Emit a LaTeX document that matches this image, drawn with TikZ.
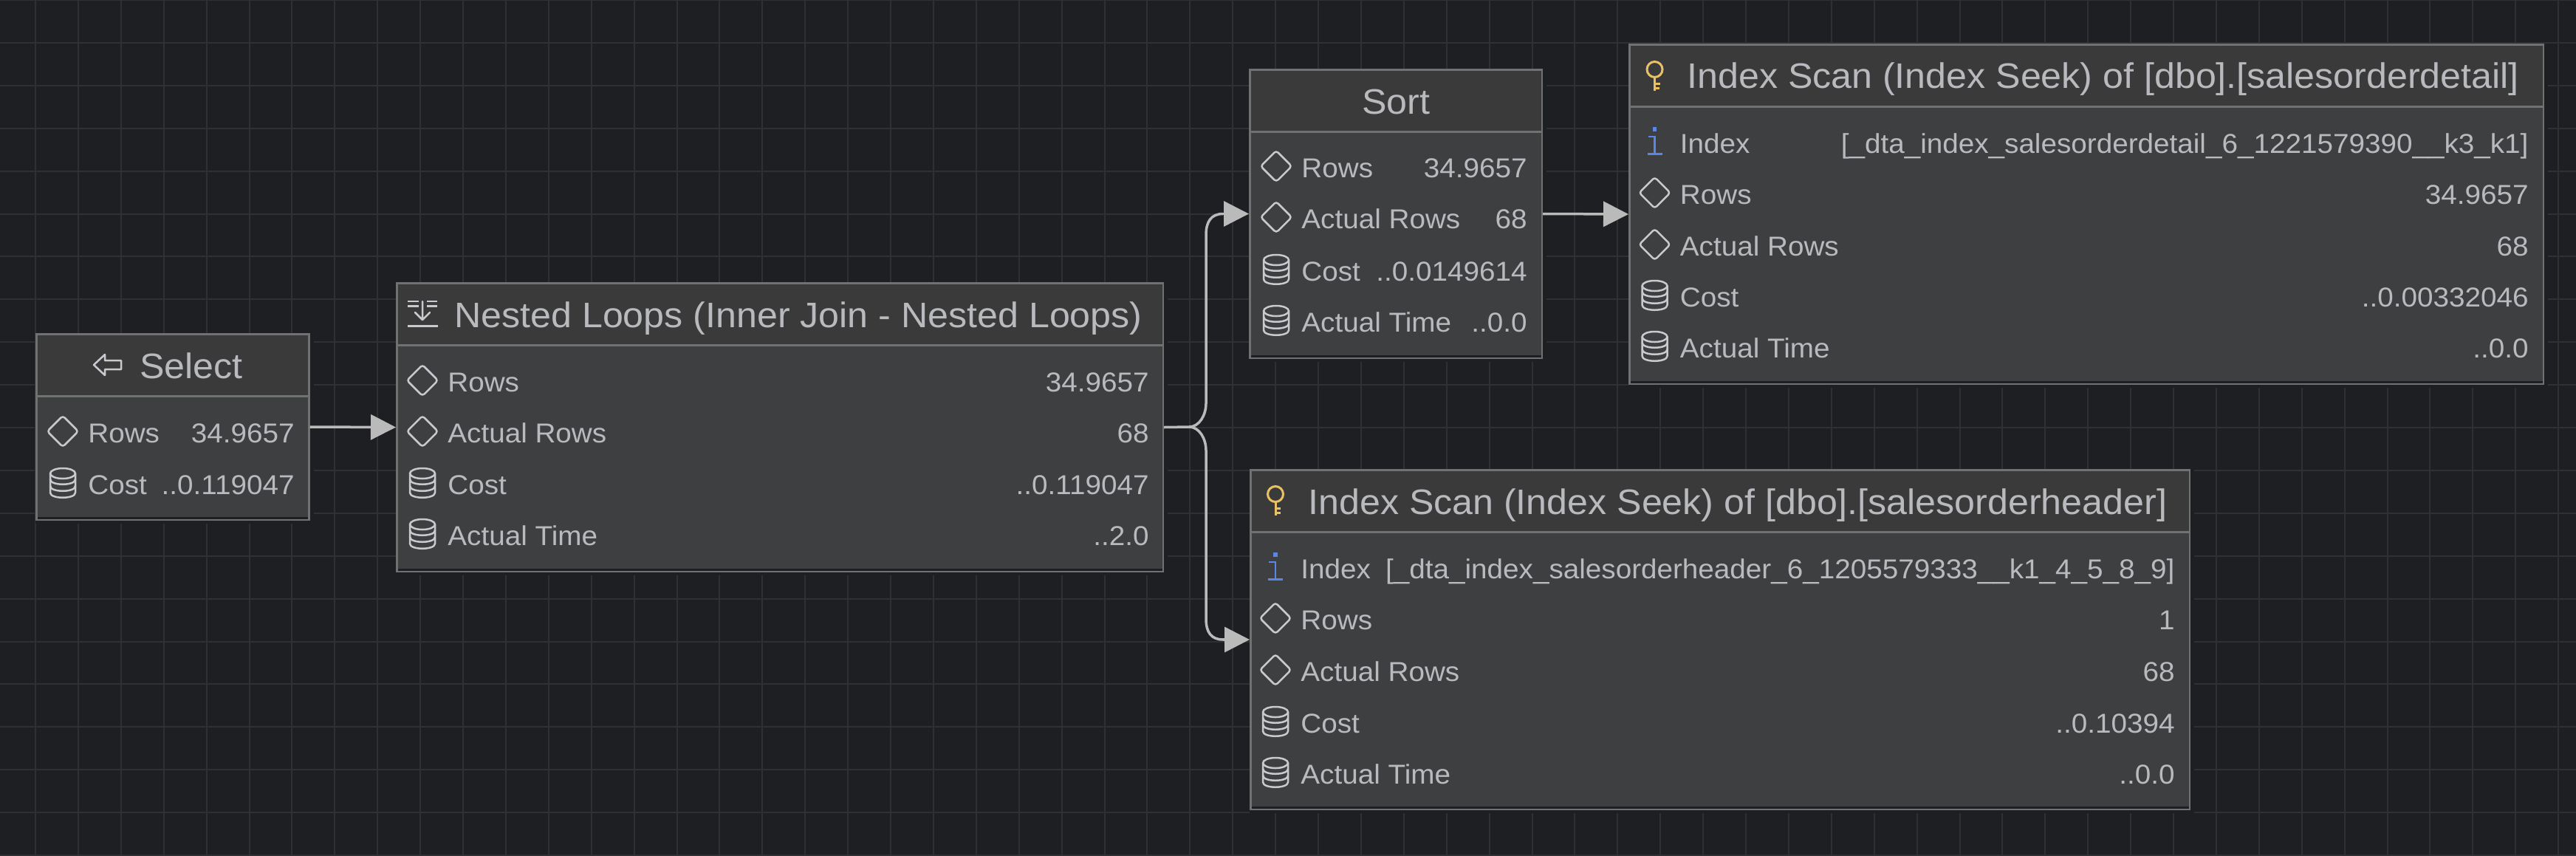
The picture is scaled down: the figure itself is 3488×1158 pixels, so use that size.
\documentclass[tikz,border=0pt]{standalone}
\usepackage{fontspec}
\setmainfont[FakeStretch=1.045]{Liberation Sans}
\usetikzlibrary{arrows.meta}
\definecolor{canvas}{HTML}{1E1F22}
\definecolor{gridc}{HTML}{2F3033}
\definecolor{bodyc}{HTML}{3E3F41}
\definecolor{headc}{HTML}{3A3A3B}
\definecolor{edgec}{HTML}{707171}
\definecolor{textc}{HTML}{B9BABE}
\definecolor{iconc}{HTML}{C9CACD}
\definecolor{linkc}{HTML}{BABABA}
\definecolor{keyc}{HTML}{E9C164}
\definecolor{infoc}{HTML}{5B86E8}
\tikzset{
  opbox/.style={draw=edgec,line width=1.25pt,fill=bodyc,inner sep=0pt,anchor=center,rectangle},
  divider/.style={edgec,line width=1.5pt},
  gridline/.style={gridc,line width=1pt},
  lab/.style={text=textc,inner sep=0pt,anchor=base west,font=\fontsize{18.5pt}{22pt}\selectfont},
  val/.style={text=textc,inner sep=0pt,anchor=base east,font=\fontsize{18.5pt}{22pt}\selectfont},
  ttl/.style={text=textc,inner sep=0pt,anchor=base west,font=\fontsize{24pt}{28pt}\selectfont},
  icon/.style={draw=iconc,line width=1.25pt,line join=round,line cap=round},
  link/.style={draw=linkc,line width=1.75pt,-{Triangle[length=17pt,width=17pt]}},
  linkplain/.style={draw=linkc,line width=1.75pt},
  pics/rowdiamond/.style={code={\draw[icon,rounded corners=1.8pt] (-21,0)--(0,-21)--(21,0)--(0,21)--cycle;}},
  pics/rowdb/.style={code={
    \draw[icon] (0,-13) ellipse [x radius=17,y radius=7];
    \draw[icon] (-17,-13) -- (-17,13) .. controls (-17,22) and (17,22) .. (17,13) -- (17,-13);
    \draw[icon] (-17,-5) .. controls (-17,4) and (17,4) .. (17,-5);
    \draw[icon] (-17,4) .. controls (-17,13) and (17,13) .. (17,4);}},
  pics/rowinfo/.style={code={
    \fill[infoc] (-2.8,-20) rectangle (2.8,-14.5);
    \draw[infoc,line width=1.25pt] (-9,-7) -- (0,-7) -- (0,16);
    \draw[infoc,line width=1.5pt] (-10,16) -- (10,16);}},
  pics/keyicon/.style={code={
    \draw[keyc,line width=1.5pt] (0,-14) circle [radius=10.5];
    \draw[keyc,line width=1.5pt] (0,-3.5) -- (0,15);
    \draw[keyc,line width=1.5pt] (0,5) -- (7,5);
    \draw[keyc,line width=1.5pt] (0,11.5) -- (6.5,11.5);}},
  pics/loopicon/.style={code={
    \draw[icon,line cap=butt,line width=1.5pt] (-20,33) -- (21,33);
    \draw[icon,line cap=butt] (-20,0) -- (-5,0) (-20,6.5) -- (-5,6.5) (6,0) -- (20,0) (6,6.5) -- (20,6.5);
    \draw[icon] (0,0) -- (0,25) (-10,15) -- (0,25) -- (10,15);}},
  pics/backicon/.style={code={
    \draw[icon] (0,0) -- (15,-14) -- (15,-6) -- (37,-6) -- (37,6) -- (15,6) -- (15,14) -- cycle;}},
}
\newcommand\opnode[6]{%
  \fill[canvas] (#2,#3) rectangle ({#4+5},{#5+4});
  \node[opbox,minimum width={(#4-#2-2.5)*0.5pt},minimum height={(#5-#3-2.5)*0.5pt}] (#1) at ({(#2+#4)/2},{(#3+#5)/2}) {};
  \fill[headc] ({#2+2.5},{#3+2.5}) rectangle ({#4-2.5},#6);
  \fill[canvas] ({#2+2.5},{#5-5.5}) rectangle ({#4-2.5},{#5-2.5});
  \draw[divider] ({#2+2.5},#6) -- ({#4-2.5},#6);
}
\newcommand\statrow[8]{%
  \pic at (#3,{#6-15}) {#2};
  \node[lab] (#1l) at (#4,#6) {#7};
  \node[val] (#1v) at (#5,#6) {#8};
}
\begin{document}
\begin{tikzpicture}[x=0.5pt,y=-0.5pt]
\useasboundingbox (0,0) rectangle (3488,1158);
\fill[canvas] (0,0) rectangle (3488,1158);
\foreach \k in {0,...,59} {\draw[gridline] ({48+57.9*\k},0) -- ({48+57.9*\k},1158);}
\foreach \k in {0,...,20} {\draw[gridline] (0,{57.9*\k}) -- (3488,{57.9*\k});}

% Select
\opnode{sel}{48}{451}{419.5}{705}{536}
\pic at (127,494) {backicon};
\node[ttl] (selt) at (189,512) {Select};
\statrow{selr}{rowdiamond}{85}{119}{399}{599}{Rows}{34.9657}
\statrow{selc}{rowdb}{85}{119}{399}{669}{Cost}{..0.119047}

% Nested Loops
\opnode{nl}{536}{382}{1576}{775}{467}
\pic at (572,408) {loopicon};
\node[ttl] (nlt) at (615,443) {Nested Loops (Inner Join - Nested Loops)};
\statrow{nlr}{rowdiamond}{572}{606}{1556}{530}{Rows}{34.9657}
\statrow{nla}{rowdiamond}{572}{606}{1556}{599}{Actual Rows}{68}
\statrow{nlc}{rowdb}{572}{606}{1556}{669}{Cost}{..0.119047}
\statrow{nlt}{rowdb}{572}{606}{1556}{738}{Actual Time}{..2.0}

% Sort
\opnode{sort}{1691}{93}{2089}{486}{178}
\node[ttl] (sortt) at (1844,154) {Sort};
\statrow{sortr}{rowdiamond}{1728}{1762}{2068}{240}{Rows}{34.9657}
\statrow{sorta}{rowdiamond}{1728}{1762}{2068}{309}{Actual Rows}{68}
\statrow{sortc}{rowdb}{1728}{1762}{2068}{380}{Cost}{..0.0149614}
\statrow{sorti}{rowdb}{1728}{1762}{2068}{449}{Actual Time}{..0.0}

% Index Scan salesorderdetail
\opnode{det}{2205}{59}{3445}{521}{144}
\pic at (2240.5,108) {keyicon};
\node[ttl] (dett) at (2284,119) {Index Scan (Index Seek) of [dbo].[salesorderdetail]};
\pic at (2240.5,192) {rowinfo};
\node[lab] (deti) at (2274.5,207) {Index};
\node[val] (detiv) at (3424,207) {[\_dta\_index\_salesorderdetail\_6\_1221579390\_\_k3\_k1]};
\statrow{detr}{rowdiamond}{2240.5}{2274.5}{3424}{276}{Rows}{34.9657}
\statrow{deta}{rowdiamond}{2240.5}{2274.5}{3424}{346}{Actual Rows}{68}
\statrow{detc}{rowdb}{2240.5}{2274.5}{3424}{415}{Cost}{..0.00332046}
\statrow{detm}{rowdb}{2240.5}{2274.5}{3424}{484}{Actual Time}{..0.0}

% Index Scan salesorderheader
\opnode{hdr}{1692}{635}{2966}{1097}{720}
\pic at (1727,683) {keyicon};
\node[ttl] (hdrt) at (1771,696) {Index Scan (Index Seek) of [dbo].[salesorderheader]};
\pic at (1727,768) {rowinfo};
\node[lab] (hdri) at (1761,783) {Index};
\node[val] (hdriv) at (2945,783) {[\_dta\_index\_salesorderheader\_6\_1205579333\_\_k1\_4\_5\_8\_9]};
\statrow{hdrr}{rowdiamond}{1727}{1761}{2945}{852}{Rows}{1}
\statrow{hdra}{rowdiamond}{1727}{1761}{2945}{922}{Actual Rows}{68}
\statrow{hdrc}{rowdb}{1727}{1761}{2945}{992}{Cost}{..0.10394}
\statrow{hdrm}{rowdb}{1727}{1761}{2945}{1061}{Actual Time}{..0.0}

% Connectors
\draw[link] (sel.east) -- (nl.west);
\draw[link] (sort.east) -- (det.west);
\coordinate (fork) at (1610,578);
\coordinate (upa) at (1633,546);
\coordinate (upb) at (1633,318);
\coordinate (upc) at (1656,289.5);
\coordinate (dna) at (1633,610);
\coordinate (dnb) at (1633,838);
\coordinate (dnc) at (1656,866);
\draw[linkplain] (nl.east) -- (fork) .. controls (1624,578) and (1633,562) .. (upa) -- (upb) .. controls (1633,300) and (1640,289.5) .. (upc);
\draw[link] (upc) -- (sort.west);
\draw[linkplain] (fork) .. controls (1624,578) and (1633,594) .. (dna) -- (dnb) .. controls (1633,856) and (1640,866) .. (dnc);
\draw[link] (dnc) -- (hdr.west);
\end{tikzpicture}
\end{document}
